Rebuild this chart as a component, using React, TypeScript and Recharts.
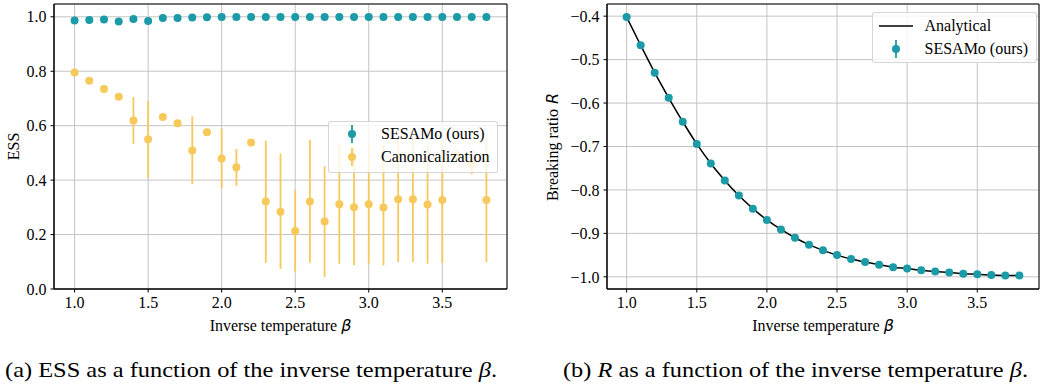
import React from "react";
import {
  ComposedChart,
  Scatter,
  Line,
  ErrorBar,
  XAxis,
  YAxis,
  CartesianGrid,
  ReferenceArea,
} from "recharts";

const betas = [
  1.0, 1.1, 1.2, 1.3, 1.4, 1.5, 1.6, 1.7, 1.8, 1.9, 2.0, 2.1, 2.2, 2.3, 2.4,
  2.5, 2.6, 2.7, 2.8, 2.9, 3.0, 3.1, 3.2, 3.3, 3.4, 3.5, 3.6, 3.7, 3.8,
];

// (a) ESS
const sesamoEss = [
  0.986, 0.988, 0.99, 0.983, 0.992, 0.985, 0.996, 0.996, 0.997, 0.998, 0.999,
  0.999, 0.999, 0.999, 0.999, 0.999, 0.999, 0.999, 0.999, 0.999, 0.999, 0.999,
  0.999, 0.999, 0.999, 0.999, 0.999, 0.999, 0.999,
];
const canonEss = [
  0.795, 0.765, 0.735, 0.706, 0.619, 0.55, 0.632, 0.609, 0.509, 0.576, 0.479,
  0.447, 0.538, 0.321, 0.284, 0.213, 0.321, 0.248, 0.311, 0.3, 0.311, 0.299,
  0.33, 0.33, 0.31, 0.327, 0.491, 0.461, 0.327,
];
const canonLow = [
  0.79, 0.76, 0.73, 0.7, 0.533, 0.408, 0.627, 0.604, 0.385, 0.571, 0.371,
  0.379, 0.533, 0.096, 0.074, 0.064, 0.096, 0.044, 0.093, 0.087, 0.094, 0.087,
  0.099, 0.099, 0.093, 0.096, 0.47, 0.422, 0.099,
];
const canonHigh = [
  0.8, 0.77, 0.74, 0.71, 0.705, 0.691, 0.637, 0.614, 0.634, 0.581, 0.589,
  0.515, 0.543, 0.545, 0.498, 0.363, 0.547, 0.451, 0.532, 0.522, 0.535, 0.528,
  0.553, 0.559, 0.528, 0.553, 0.51, 0.485, 0.559,
];

// (b) breaking ratio R
const sesamoR = [
  -0.402, -0.467, -0.53, -0.588, -0.643, -0.694, -0.739, -0.778, -0.813,
  -0.843, -0.869, -0.891, -0.91, -0.926, -0.939, -0.95, -0.959, -0.966, -0.972,
  -0.978, -0.981, -0.985, -0.988, -0.99, -0.993, -0.994, -0.996, -0.997, -0.997,
];
const analyticalR = [
  -0.402, -0.467, -0.53, -0.588, -0.643, -0.694, -0.739, -0.778, -0.813,
  -0.843, -0.869, -0.891, -0.91, -0.926, -0.939, -0.95, -0.959, -0.966, -0.972,
  -0.978, -0.981, -0.985, -0.988, -0.99, -0.993, -0.994, -0.996, -0.997, -0.997,
];

const xTicks = [1.0, 1.5, 2.0, 2.5, 3.0, 3.5];
const essTicks = [0, 0.2, 0.4, 0.6, 0.8, 1.0];
const rTicks = [-1.0, -0.9, -0.8, -0.7, -0.6, -0.5, -0.4];

const X_DOMAIN = [0.86, 3.94];
const ESS_DOMAIN = [0, 1.047];
const R_DOMAIN = [-1.028, -0.372];

const TEAL = "#1a9ba7";
const YELLOW = "#f7c95a";
const GRID = "#c4c4c4";
const SERIF = "'Liberation Serif', 'Times New Roman', serif";

const sesamoData = betas.map((b, i) => ({ beta: b, y: sesamoEss[i] }));
const canonData = betas.map((b, i) => ({
  beta: b,
  y: canonEss[i],
  err: [canonEss[i] - canonLow[i], canonHigh[i] - canonEss[i]],
}));
const rData = betas.map((b, i) => ({
  beta: b,
  analytical: analyticalR[i],
  sesamo: sesamoR[i],
}));

const tickStyle = { fontFamily: SERIF, fontSize: 16, fill: "#000" };
const fmt1 = (v: number) => v.toFixed(1).replace("-", "\u2212");

const dot = (color: string) => (p: any) =>
  <circle cx={p.cx} cy={p.cy} r={4} fill={color} />;

const xLabel = (p: any) => {
  const vb = p.viewBox || { x: 0, y: 0, width: 0 };
  return (
    <text
      x={vb.x + vb.width / 2}
      y={vb.y + 41.5}
      textAnchor="middle"
      fontFamily={SERIF}
      fontSize={16}
      fill="#000"
    >
      Inverse temperature{" "}
      <tspan fontFamily="DejaVu Sans" fontStyle="italic">
        β
      </tspan>
    </text>
  );
};

const yLabel = (text: string, italic: string, cx: number, cy: number) => () =>
  (
    <text
      x={cx}
      y={cy}
      transform={`rotate(-90 ${cx} ${cy})`}
      textAnchor="middle"
      dominantBaseline="central"
      fontFamily={SERIF}
      fontSize={16}
      fill="#000"
    >
      {text}
      {italic ? (
        <tspan fontFamily="DejaVu Sans" fontStyle="italic">
          {" " + italic}
        </tspan>
      ) : null}
    </text>
  );

const legendBox: React.CSSProperties = {
  position: "absolute",
  background: "rgba(255,255,255,0.8)",
  border: "1px solid rgba(204,204,204,0.8)",
  borderRadius: 3,
  boxSizing: "border-box",
  fontFamily: SERIF,
  fontSize: 16,
  color: "#000",
};

const ErrMarker = ({ color }: { color: string }) => (
  <svg width={12} height={20} style={{ position: "absolute", left: 17, top: -10 }}>
    <line x1={6} y1={1} x2={6} y2={19} stroke={color} strokeWidth={1.8} />
    <circle cx={6} cy={10} r={4} fill={color} />
  </svg>
);

const LegendRow = ({ top, children, marker }: any) => (
  <div style={{ position: "absolute", left: 0, top, width: "100%", height: 0 }}>
    {marker}
    <div
      style={{
        position: "absolute",
        left: 52,
        top: -10,
        lineHeight: "20px",
        whiteSpace: "nowrap",
      }}
    >
      {children}
    </div>
  </div>
);

const EssChart = () => (
  <div style={{ position: "absolute", left: 0, top: 0, width: 520, height: 340 }}>
    <ComposedChart
      width={520}
      height={340}
      margin={{ top: 4, right: 13, left: 0, bottom: 0 }}
    >
      <CartesianGrid stroke={GRID} strokeWidth={1} />
      <XAxis
        dataKey="beta"
        type="number"
        domain={X_DOMAIN}
        ticks={xTicks}
        allowDataOverflow
        tickFormatter={fmt1}
        tick={tickStyle}
        tickSize={3.5}
        tickMargin={4}
        height={51}
        stroke="#000"
        label={{ content: xLabel }}
      />
      <YAxis
        type="number"
        domain={ESS_DOMAIN}
        ticks={essTicks}
        allowDataOverflow
        tickFormatter={fmt1}
        tick={tickStyle}
        tickSize={3.5}
        tickMargin={4}
        width={54}
        stroke="#000"
        label={{ content: yLabel("ESS", "", 13, 146.5) }}
      />
      <Scatter
        data={canonData}
        dataKey="y"
        fill={YELLOW}
        shape={dot(YELLOW)}
        isAnimationActive={false}
      >
        <ErrorBar
          dataKey="err"
          direction="y"
          width={0}
          stroke={YELLOW}
          strokeWidth={1.8}
          isAnimationActive={false}
        />
      </Scatter>
      <Scatter
        data={sesamoData}
        dataKey="y"
        fill={TEAL}
        shape={dot(TEAL)}
        isAnimationActive={false}
      />
      <ReferenceArea
        x1={X_DOMAIN[0]}
        x2={X_DOMAIN[1]}
        y1={ESS_DOMAIN[0]}
        y2={ESS_DOMAIN[1]}
        fill="none"
        fillOpacity={0}
        stroke="#000"
        strokeWidth={1}
        ifOverflow="visible"
      />
    </ComposedChart>
    <div style={{ ...legendBox, left: 328, top: 120.5, width: 170, height: 52 }}>
      <LegendRow top={12.5} marker={<ErrMarker color={TEAL} />}>
        SESAMo (ours)
      </LegendRow>
      <LegendRow top={35.5} marker={<ErrMarker color={YELLOW} />}>
        Canonicalization
      </LegendRow>
    </div>
  </div>
);

const RChart = () => (
  <div style={{ position: "absolute", left: 520, top: 0, width: 520, height: 340 }}>
    <ComposedChart
      width={520}
      height={340}
      data={rData}
      margin={{ top: 4, right: 1, left: 0, bottom: 0 }}
    >
      <CartesianGrid stroke={GRID} strokeWidth={1} />
      <XAxis
        dataKey="beta"
        type="number"
        domain={X_DOMAIN}
        ticks={xTicks}
        allowDataOverflow
        tickFormatter={fmt1}
        tick={tickStyle}
        tickSize={3.5}
        tickMargin={4}
        height={51}
        stroke="#000"
        label={{ content: xLabel }}
      />
      <YAxis
        type="number"
        domain={R_DOMAIN}
        ticks={rTicks}
        allowDataOverflow
        tickFormatter={fmt1}
        tick={tickStyle}
        tickSize={3.5}
        tickMargin={4}
        width={87}
        stroke="#000"
        label={{ content: yLabel("Breaking ratio", "R", 32, 147) }}
      />
      <Line
        dataKey="analytical"
        type="monotone"
        stroke="#000"
        strokeWidth={1.5}
        dot={false}
        isAnimationActive={false}
      />
      <Scatter
        dataKey="sesamo"
        fill={TEAL}
        shape={dot(TEAL)}
        isAnimationActive={false}
      />
      <ReferenceArea
        x1={X_DOMAIN[0]}
        x2={X_DOMAIN[1]}
        y1={R_DOMAIN[0]}
        y2={R_DOMAIN[1]}
        fill="none"
        fillOpacity={0}
        stroke="#000"
        strokeWidth={1}
        ifOverflow="visible"
      />
    </ComposedChart>
    <div style={{ ...legendBox, left: 351.5, top: 12, width: 165, height: 51 }}>
      <LegendRow
        top={13}
        marker={
          <svg width={36} height={4} style={{ position: "absolute", left: 6, top: -2 }}>
            <line x1={0} y1={2} x2={34} y2={2} stroke="#000" strokeWidth={1.5} />
          </svg>
        }
      >
        Analytical
      </LegendRow>
      <LegendRow top={36} marker={<ErrMarker color={TEAL} />}>
        SESAMo (ours)
      </LegendRow>
    </div>
  </div>
);

const Captions = () => (
  <svg
    width={1040}
    height={45}
    style={{ position: "absolute", left: 0, top: 340 }}
    fontFamily={SERIF}
    fontSize={22}
    fill="#000"
  >
    <text x={5} y={37} textLength={492} lengthAdjust="spacingAndGlyphs">
      (a) ESS as a function of the inverse temperature{" "}
      <tspan fontStyle="italic">β</tspan>.
    </text>
    <text x={563} y={37} textLength={465} lengthAdjust="spacingAndGlyphs">
      (b) <tspan fontStyle="italic">R</tspan> as a function of the inverse
      temperature <tspan fontStyle="italic">β</tspan>.
    </text>
  </svg>
);

export default function App() {
  return (
    <div
      style={{
        position: "absolute",
        left: 0,
        top: 0,
        width: 1040,
        height: 385,
        background: "#fff",
        overflow: "hidden",
      }}
    >
      <EssChart />
      <RChart />
      <Captions />
    </div>
  );
}
